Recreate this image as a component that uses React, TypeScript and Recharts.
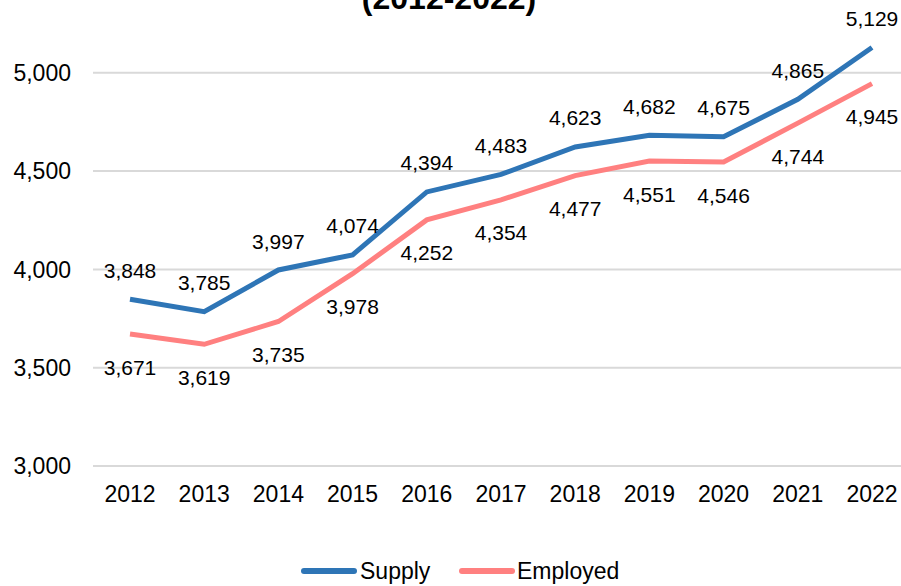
import React from 'react';
import { LineChart, Line, XAxis, YAxis, CartesianGrid, Legend, LabelList } from 'recharts';

const years = ['2012', '2013', '2014', '2015', '2016', '2017', '2018', '2019', '2020', '2021', '2022'];
const supply = [3848, 3785, 3997, 4074, 4394, 4483, 4623, 4682, 4675, 4865, 5129];
const employed = [3671, 3619, 3735, 3978, 4252, 4354, 4477, 4551, 4546, 4744, 4945];
const yTicks = [3000, 3500, 4000, 4500, 5000];
const seriesNames = ['Supply', 'Employed'];
const titleText = '(2012-2022)';

const data = years.map((y, i) => ({ year: y, supply: supply[i], employed: employed[i] }));

const FONT = '"Liberation Sans", Arial, sans-serif';
const BLUE = '#2E75B6';
const PINK = '#FF8080';
const SHIFT = 40;
const W = 909;
const H = 640;

const fmt = (v: number) => v.toLocaleString('en-US');

const makeLabel = (dyCenter: number) => (props: any) => {
  const { x, y, value } = props;
  const fs = 21;
  return (
    <text
      x={x}
      y={y + dyCenter + fs * 0.36}
      textAnchor="middle"
      fontSize={fs}
      fontFamily={FONT}
      fill="#000"
    >
      {fmt(value)}
    </text>
  );
};

const LegendContent = () => (
  <div style={{ position: 'relative', width: W, height: 40, fontFamily: FONT, fontSize: 23, color: '#000' }}>
    <div style={{ position: 'absolute', left: 301, top: 17, width: 56, height: 6, borderRadius: 3, background: BLUE }} />
    <div style={{ position: 'absolute', left: 360, top: 6, lineHeight: '28px' }}>{seriesNames[0]}</div>
    <div style={{ position: 'absolute', left: 459, top: 17, width: 56, height: 6, borderRadius: 3, background: PINK }} />
    <div style={{ position: 'absolute', left: 517, top: 6, lineHeight: '28px' }}>{seriesNames[1]}</div>
  </div>
);

export default function App() {
  return (
    <div style={{ position: 'absolute', left: 0, top: 0, width: 901, height: 586, overflow: 'hidden', background: '#fff' }}>
      <div style={{ position: 'absolute', left: 0, top: -SHIFT }}>
        <LineChart width={W} height={H} data={data} margin={{ top: 14.5, right: 0, bottom: 9, left: 0 }}>
          <CartesianGrid vertical={false} stroke="#D9D9D9" strokeWidth={2} />
          <XAxis
            dataKey="year"
            interval={0}
            padding={{ left: 37, right: 37 }}
            axisLine={false}
            tickLine={false}
            tickSize={0}
            tickMargin={20}
            height={85}
            tick={{ fontSize: 23, fontFamily: FONT, fill: '#000' }}
          />
          <YAxis
            domain={[3000, 5500]}
            ticks={yTicks}
            width={93}
            axisLine={false}
            tickLine={false}
            tickSize={0}
            tickMargin={22}
            tickFormatter={fmt}
            tick={{ fontSize: 23, fontFamily: FONT, fill: '#000' }}
          />
          <Legend verticalAlign="bottom" content={<LegendContent />} wrapperStyle={{ left: 0, width: W, height: 40 }} />
          <Line
            type="linear"
            dataKey="supply"
            name={seriesNames[0]}
            stroke={BLUE}
            strokeWidth={5}
            dot={false}
            isAnimationActive={false}
          >
            <LabelList dataKey="supply" content={makeLabel(-29)} />
          </Line>
          <Line
            type="linear"
            dataKey="employed"
            name={seriesNames[1]}
            stroke={PINK}
            strokeWidth={5}
            dot={false}
            isAnimationActive={false}
          >
            <LabelList dataKey="employed" content={makeLabel(33)} />
          </Line>
        </LineChart>
      </div>
      <svg style={{ position: 'absolute', left: 0, top: 0 }} width={901} height={40}>
        <text x={449} y={9} textAnchor="middle" fontSize={32} fontWeight="bold" fontFamily={FONT} fill="#000">
          {titleText}
        </text>
      </svg>
    </div>
  );
}
